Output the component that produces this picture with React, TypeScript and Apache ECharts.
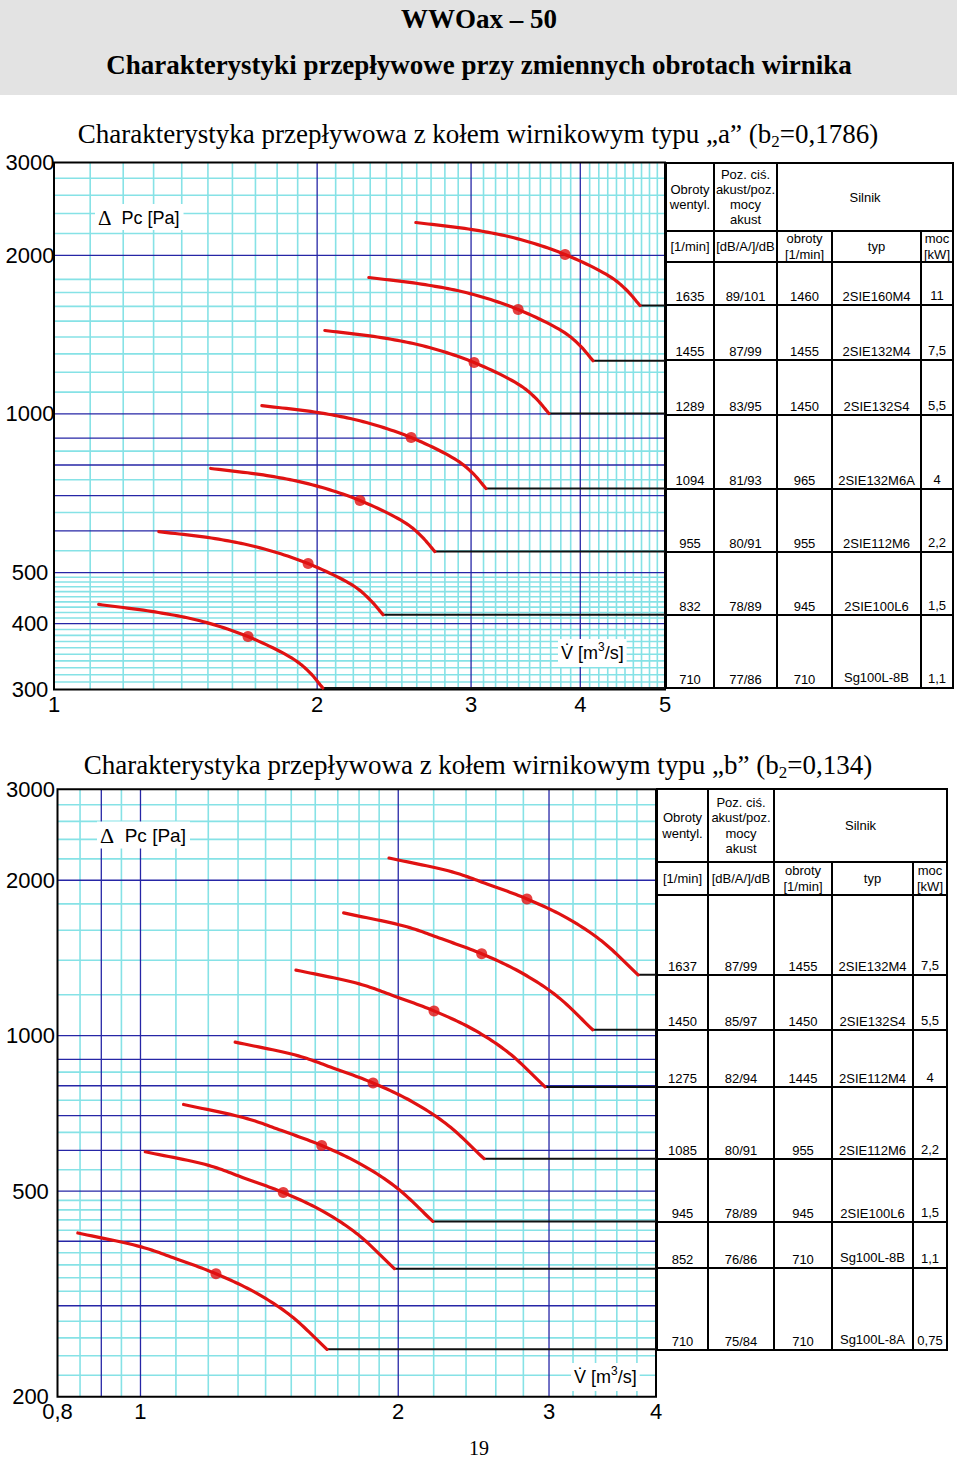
import React, { useEffect, useRef } from "react";
import * as echarts from "echarts";

const SERIF = "'Liberation Serif', 'Times New Roman', serif";
const SANS = "'Liberation Sans', Arial, sans-serif";
const RED = "#e01212";
const CYAN = "#86e2e6";
const BLUE = "#2626a6";

// ---------------- Chart A (wirnik typu "a") ----------------
const aXRange = [1, 5];
const aYRange = [300, 3000];
const aXTickValues = [1, 2, 3, 4, 5];
const aXTickLabels = ["1", "2", "3", "4", "5"];
const aYTickValues = [3000, 2000, 1000, 500, 400, 300];
const aYTickLabels = ["3000", "2000", "1000", "500", "400", "300"];
const aVMinor = [1.1, 1.2, 1.3, 1.4, 1.5, 1.6, 1.7, 1.8, 1.9, 2.1, 2.2, 2.3, 2.4, 2.5, 2.6, 2.7, 2.8, 2.9, 3.1, 3.2, 3.3, 3.4, 3.5, 3.6, 3.7, 3.8, 3.9, 4.1, 4.2, 4.3, 4.4, 4.5, 4.6, 4.7, 4.8, 4.9];
const aVMajor = [2, 3, 4];
const aHMinor = [2800, 2600, 2400, 2200, 1800, 1700, 1600, 1500, 1400, 1300, 1200, 1100, 850, 750, 650, 550, 490, 480, 470, 460, 450, 440, 430, 420, 410, 390, 380, 370, 360, 350, 340, 330, 320, 310];
const aHMajor = [2000, 1000, 900, 800, 700, 600, 500, 400];

const aCurve1635 = [[2.594, 2308], [3.009, 2238], [3.386, 2151], [3.843, 2007], [4.339, 1816], [4.523, 1715], [4.681, 1606]];
const aCurve1455 = [[2.292, 1815], [2.659, 1759], [2.992, 1692], [3.396, 1578], [3.834, 1428], [3.997, 1348], [4.136, 1262]];
const aCurve1289 = [[2.041, 1440], [2.368, 1396], [2.664, 1342], [3.024, 1252], [3.414, 1133], [3.559, 1070], [3.683, 1002]];
const aCurve1094 = [[1.729, 1037], [2.006, 1006], [2.257, 967], [2.562, 902], [2.892, 816], [3.015, 771], [3.12, 722]];
const aCurve955 = [[1.511, 788], [1.753, 764], [1.973, 734], [2.239, 685], [2.528, 620], [2.635, 585], [2.727, 548]];
const aCurve832 = [[1.318, 598], [1.529, 580], [1.721, 557], [1.953, 520], [2.205, 471], [2.299, 444], [2.379, 416]];
const aCurve710 = [[1.125, 435], [1.305, 421], [1.469, 405], [1.667, 378], [1.882, 342], [1.962, 323], [2.03, 302]];
const aDots = [[3.843, 2007], [3.396, 1578], [3.024, 1252], [2.562, 902], [2.239, 685], [1.953, 520], [1.667, 378]];

const aFanRpm = ["1635", "1455", "1289", "1094", "955", "832", "710"];
const aNoise = ["89/101", "87/99", "83/95", "81/93", "80/91", "78/89", "77/86"];
const aMotorRpm = ["1460", "1455", "1450", "965", "955", "945", "710"];
const aMotorType = ["2SIE160M4", "2SIE132M4", "2SIE132S4", "2SIE132M6A", "2SIE112M6", "2SIE100L6", "Sg100L-8B"];
const aPower = ["11", "7,5", "5,5", "4", "2,2", "1,5", "1,1"];

// ---------------- Chart B (wirnik typu "b") ----------------
const bXRange = [0.8, 4];
const bYRange = [200, 3000];
const bXTickValues = [0.8, 1, 2, 3, 4];
const bXTickLabels = ["0,8", "1", "2", "3", "4"];
const bYTickValues = [3000, 2000, 1000, 500, 200];
const bYTickLabels = ["3000", "2000", "1000", "500", "200"];
const bVMinor = [0.85, 0.95, 1.1, 1.2, 1.3, 1.4, 1.5, 1.6, 1.7, 1.8, 1.9, 2.2, 2.4, 2.6, 2.8, 3.2, 3.4, 3.6, 3.8];
const bVMajor = [0.9, 1, 2, 3];
const bHMinor = [2800, 2600, 2400, 2200, 1800, 1600, 1400, 1200, 850, 750, 650, 550, 480, 460, 440, 420, 380, 360, 340, 320, 280, 260, 240, 220];
const bHMajor = [2000, 1000, 900, 800, 700, 600, 500, 400, 300];

const bCurve1637 = [[1.951, 2208], [2.312, 2076], [2.539, 1967], [2.827, 1840], [3.146, 1691], [3.457, 1525], [3.811, 1312]];
const bCurve1450 = [[1.727, 1729], [2.047, 1625], [2.248, 1540], [2.503, 1441], [2.786, 1324], [3.061, 1195], [3.374, 1027]];
const bCurve1275 = [[1.519, 1340], [1.801, 1260], [1.977, 1194], [2.202, 1117], [2.451, 1027], [2.693, 926], [2.968, 796]];
const bCurve1085 = [[1.29, 972], [1.529, 914], [1.678, 866], [1.869, 810], [2.08, 744], [2.286, 671], [2.519, 578]];
const bCurve945 = [[1.123, 736], [1.332, 691], [1.462, 655], [1.628, 613], [1.812, 563], [1.991, 508], [2.195, 437]];
const bCurve852 = [[1.013, 596], [1.201, 561], [1.318, 531], [1.468, 497], [1.634, 457], [1.795, 412], [1.979, 354]];
const bCurve710 = [[0.845, 415], [1.002, 390], [1.1, 370], [1.225, 346], [1.363, 318], [1.498, 287], [1.651, 247]];
const bDots = [[2.827, 1840], [2.503, 1441], [2.202, 1117], [1.869, 810], [1.628, 613], [1.468, 497], [1.225, 346]];

const bFanRpm = ["1637", "1450", "1275", "1085", "945", "852", "710"];
const bNoise = ["87/99", "85/97", "82/94", "80/91", "78/89", "76/86", "75/84"];
const bMotorRpm = ["1455", "1450", "1445", "955", "945", "710", "710"];
const bMotorType = ["2SIE132M4", "2SIE132S4", "2SIE112M4", "2SIE112M6", "2SIE100L6", "Sg100L-8B", "Sg100L-8A"];
const bPower = ["7,5", "5,5", "4", "2,2", "1,5", "1,1", "0,75"];

const headerTop = ["Obroty\nwentyl.", "Poz. ciś.\nakust/poz.\nmocy\nakust", "Silnik"];
const headerBottom = ["[1/min]", "[dB/A/]/dB", "obroty\n[1/min]", "typ", "moc\n[kW]"];

// ---------------- helpers ----------------
// centripetal Catmull-Rom through pixel points (rendering only)
function catmull(pts: number[][], seg = 14): number[][] {
  const n = pts.length;
  if (n < 3) return pts;
  const P = (i: number) => {
    if (i < 0) return [2 * pts[0][0] - pts[1][0], 2 * pts[0][1] - pts[1][1]];
    if (i >= n) return [2 * pts[n - 1][0] - pts[n - 2][0], 2 * pts[n - 1][1] - pts[n - 2][1]];
    return pts[i];
  };
  const out: number[][] = [pts[0]];
  const d = (a: number[], b: number[]) => Math.max(1e-4, Math.pow(Math.hypot(b[0] - a[0], b[1] - a[1]), 0.5));
  const lerp = (a: number[], b: number[], ta: number, tb: number, t: number) => {
    const u = (t - ta) / (tb - ta);
    return [a[0] + (b[0] - a[0]) * u, a[1] + (b[1] - a[1]) * u];
  };
  for (let i = 0; i < n - 1; i++) {
    const p0 = P(i - 1), p1 = P(i), p2 = P(i + 1), p3 = P(i + 2);
    const t0 = 0;
    const t1 = t0 + d(p0, p1);
    const t2 = t1 + d(p1, p2);
    const t3 = t2 + d(p2, p3);
    for (let k = 1; k <= seg; k++) {
      const t = t1 + ((t2 - t1) * k) / seg;
      const A1 = lerp(p0, p1, t0, t1, t);
      const A2 = lerp(p1, p2, t1, t2, t);
      const A3 = lerp(p2, p3, t2, t3, t);
      const B1 = lerp(A1, A2, t0, t2, t);
      const B2 = lerp(A2, A3, t1, t3, t);
      out.push(lerp(B1, B2, t1, t2, t));
    }
  }
  return out;
}

function gridSeries(gi: number, xr: number[], yr: number[], vMinor: number[], vMajor: number[], hMinor: number[], hMajor: number[]) {
  const data: number[][] = [];
  vMinor.forEach((v) => data.push([v, yr[0], 0]));
  hMinor.forEach((v) => data.push([xr[0], v, 1]));
  hMajor.forEach((v) => data.push([xr[0], v, 2]));
  vMajor.forEach((v) => data.push([v, yr[0], 3]));
  data.push([xr[0], yr[0], 4]);
  return {
    type: "custom",
    xAxisIndex: gi,
    yAxisIndex: gi,
    z: 1,
    silent: true,
    data,
    renderItem: (params: any, api: any) => {
      const kind = api.value(2);
      const a = api.value(0);
      const b = api.value(1);
      if (kind === 0 || kind === 3) {
        const p1 = api.coord([a, yr[0]]);
        const p2 = api.coord([a, yr[1]]);
        return {
          type: "line",
          shape: { x1: p1[0], y1: p1[1], x2: p2[0], y2: p2[1] },
          style: { stroke: kind === 0 ? CYAN : BLUE, lineWidth: kind === 0 ? 1.6 : 1.3 },
        };
      }
      if (kind === 1 || kind === 2) {
        const p1 = api.coord([xr[0], b]);
        const p2 = api.coord([xr[1], b]);
        return {
          type: "line",
          shape: { x1: p1[0], y1: p1[1], x2: p2[0], y2: p2[1] },
          style: { stroke: kind === 1 ? CYAN : BLUE, lineWidth: kind === 1 ? 1.6 : 1.3 },
        };
      }
      const p1 = api.coord([xr[0], yr[1]]);
      const p2 = api.coord([xr[1], yr[0]]);
      return {
        type: "rect",
        shape: { x: p1[0], y: p1[1], width: p2[0] - p1[0], height: p2[1] - p1[1] },
        style: { fill: "none", stroke: "#000", lineWidth: 2 },
      };
    },
  };
}

function labelSeries(gi: number, points: number[][], labels: string[], dx: number, dy: number) {
  return {
    type: "custom",
    xAxisIndex: gi,
    yAxisIndex: gi,
    z: 6,
    silent: true,
    data: points,
    renderItem: (params: any, api: any) => {
      const p = api.coord([api.value(0), api.value(1)]);
      return {
        type: "text",
        x: p[0] + dx,
        y: p[1] + dy,
        style: {
          text: labels[params.dataIndex],
          font: `22px ${SANS}`,
          fill: "#000",
          align: "center",
          verticalAlign: "middle",
          textAlign: "center",
          textVerticalAlign: "middle",
        },
      };
    },
  };
}

function curveSeries(gi: number, curves: number[][][], dots: number[][], xMax: number) {
  const out: any[] = [];
  curves.forEach((c) => {
    const end = c[c.length - 1];
    out.push({
      type: "line",
      xAxisIndex: gi,
      yAxisIndex: gi,
      data: [end, [xMax, end[1]]],
      showSymbol: false,
      silent: true,
      z: 2,
      lineStyle: { color: "#111", width: 2 },
    });
    out.push({
      type: "custom",
      xAxisIndex: gi,
      yAxisIndex: gi,
      data: c,
      silent: true,
      z: 3,
      renderItem: (params: any, api: any) => {
        if (params.dataIndex !== 0) return null;
        const px = c.map((p) => api.coord(p));
        return {
          type: "polyline",
          shape: { points: catmull(px) },
          style: { stroke: RED, lineWidth: 3.2, fill: "none", lineCap: "round", lineJoin: "round" },
        };
      },
    });
  });
  out.push({
    type: "scatter",
    xAxisIndex: gi,
    yAxisIndex: gi,
    data: dots,
    symbolSize: 11,
    silent: true,
    z: 4,
    itemStyle: { color: RED },
  });
  return out;
}

function txt(x: number, y: number, text: string, font: string, extra: any = {}) {
  return {
    type: "text",
    x,
    y,
    z: 100,
    silent: true,
    style: {
      text,
      font,
      fill: "#000",
      align: "center",
      verticalAlign: "middle",
      textAlign: "center",
      textVerticalAlign: "middle",
      ...extra,
    },
  };
}

function ln(x1: number, y1: number, x2: number, y2: number, w = 2) {
  return { type: "line", z: 100, silent: true, shape: { x1, y1, x2, y2 }, style: { stroke: "#000", lineWidth: w } };
}

function tableGraphics(
  cols: number[],
  top: number,
  mid: number,
  headBottom: number,
  rowBottoms: number[],
  columns: string[][],
  headLH: number
) {
  const els: any[] = [];
  const bottom = rowBottoms[rowBottoms.length - 1];
  els.push({
    type: "rect",
    z: 99,
    silent: true,
    shape: { x: cols[0], y: top, width: cols[5] - cols[0], height: bottom - top },
    style: { fill: "#fff", stroke: "#000", lineWidth: 2 },
  });
  els.push(ln(cols[1], top, cols[1], bottom));
  els.push(ln(cols[2], top, cols[2], bottom));
  els.push(ln(cols[3], mid, cols[3], bottom));
  els.push(ln(cols[4], mid, cols[4], bottom));
  els.push(ln(cols[0], mid, cols[5], mid));
  els.push(ln(cols[0], headBottom, cols[5], headBottom));
  rowBottoms.slice(0, -1).forEach((y) => els.push(ln(cols[0], y, cols[5], y)));
  const cx = [0, 1, 2, 3, 4].map((i) => (cols[i] + cols[i + 1]) / 2);
  const f = `13px ${SANS}`;
  const hm = (top + mid) / 2;
  els.push(txt(cx[0], hm, headerTop[0], f, { lineHeight: headLH }));
  els.push(txt(cx[1], hm, headerTop[1], f, { lineHeight: headLH }));
  els.push(txt((cols[2] + cols[5]) / 2, hm, headerTop[2], f));
  const hb = (mid + headBottom) / 2;
  headerBottom.forEach((h, i) => els.push(txt(cx[i], hb, h, f, { lineHeight: 16 })));
  rowBottoms.forEach((yb, r) => {
    columns.forEach((col, c) => {
      const isSg = col[r].startsWith("Sg");
      const dy = c === 4 ? 9.5 : isSg ? 10.5 : 8.5;
      els.push(txt(cx[c], yb - dy, col[r], f));
    });
  });
  return els;
}

function axisNameGraphics(px: number, py: number, vx: number, vy: number, fs: number) {
  return [
    {
      type: "text",
      x: px,
      y: py,
      z: 100,
      silent: true,
      style: {
        text: "{d|Δ}{n|  Pc [Pa]}",
        rich: {
          d: { fontFamily: SERIF, fontSize: fs + 3, fill: "#000" },
          n: { fontFamily: SANS, fontSize: fs, fill: "#000" },
        },
        backgroundColor: "#fff",
        padding: [3, 4, 2, 3],
        fill: "#000",
        align: "left",
        verticalAlign: "middle",
        textAlign: "left",
        textVerticalAlign: "middle",
      },
    },
    {
      type: "text",
      x: vx,
      y: vy,
      z: 100,
      silent: true,
      style: {
        text: "{n|V̇ [m}{s|3}{n|/s]}",
        rich: {
          n: { fontFamily: SANS, fontSize: 18, lineHeight: 24, fill: "#000" },
          s: { fontFamily: SANS, fontSize: 12, lineHeight: 12, verticalAlign: "top", fill: "#000" },
        },
        backgroundColor: "#fff",
        padding: [2, 3, 2, 3],
        fill: "#000",
        align: "left",
        verticalAlign: "middle",
        textAlign: "left",
        textVerticalAlign: "middle",
      },
    },
  ];
}

function subtitle(x: number, y: number, main: string, tail: string) {
  return {
    type: "text",
    x,
    y,
    z: 100,
    silent: true,
    style: {
      text: `{m|${main}}{s|2}{m|${tail}}`,
      rich: {
        m: { fontFamily: SERIF, fontSize: 27, lineHeight: 32, fill: "#000" },
        s: { fontFamily: SERIF, fontSize: 17, lineHeight: 20, verticalAlign: "bottom", fill: "#000" },
      },
      fill: "#000",
      align: "center",
      verticalAlign: "middle",
      textAlign: "center",
      textVerticalAlign: "middle",
    },
  };
}

function buildOption() {
  const hiddenAxis = {
    type: "log",
    axisLine: { show: false },
    axisTick: { show: false },
    axisLabel: { show: false },
    splitLine: { show: false },
  };
  const series: any[] = [
    gridSeries(0, aXRange, aYRange, aVMinor, aVMajor, aHMinor, aHMajor),
    gridSeries(1, bXRange, bYRange, bVMinor, bVMajor, bHMinor, bHMajor),
    ...curveSeries(0, [aCurve1635, aCurve1455, aCurve1289, aCurve1094, aCurve955, aCurve832, aCurve710], aDots, aXRange[1]),
    ...curveSeries(1, [bCurve1637, bCurve1450, bCurve1275, bCurve1085, bCurve945, bCurve852, bCurve710], bDots, bXRange[1]),
    labelSeries(0, aXTickValues.map((v) => [v, aYRange[0]]), aXTickLabels, 0, 15),
    labelSeries(0, aYTickValues.map((v) => [aXRange[0], v]), aYTickLabels, -24, 0),
    labelSeries(1, bXTickValues.map((v) => [v, bYRange[0]]), bXTickLabels, 0, 15),
    labelSeries(1, bYTickValues.map((v) => [bXRange[0], v]), bYTickLabels, -27, 0),
  ];

  const graphic: any[] = [
    { type: "rect", z: 90, silent: true, shape: { x: 0, y: 0, width: 957, height: 95 }, style: { fill: "#e3e3e3" } },
    txt(479, 19, "WWOax – 50", `bold 27px ${SERIF}`),
    txt(479, 65, "Charakterystyki przepływowe przy zmiennych obrotach wirnika", `bold 27px ${SERIF}`),
    subtitle(478, 134, "Charakterystyka przepływowa z kołem wirnikowym typu „a” (b", "=0,1786)"),
    subtitle(478, 765, "Charakterystyka przepływowa z kołem wirnikowym typu „b” (b", "=0,134)"),
    txt(479, 1448, "19", `20px ${SERIF}`),
    ...axisNameGraphics(95, 217, 558, 653, 18),
    ...axisNameGraphics(97, 835, 571, 1377, 19),
    ...tableGraphics([666, 714, 777, 832, 921, 953], 163, 231, 262, [305, 360, 415, 489, 552, 615, 688], [aFanRpm, aNoise, aMotorRpm, aMotorType, aPower], 15),
    ...tableGraphics([657, 708, 774, 832, 913, 947], 789, 862, 895, [975, 1030, 1087, 1159, 1222, 1268, 1350], [bFanRpm, bNoise, bMotorRpm, bMotorType, bPower], 15.6),
  ];

  return {
    animation: false,
    backgroundColor: "#fff",
    grid: [
      { left: 54, top: 162.5, width: 611, height: 527, show: false },
      { left: 57.5, top: 789.3, width: 598.5, height: 607.4, show: false },
    ],
    xAxis: [
      { ...hiddenAxis, gridIndex: 0, min: aXRange[0], max: aXRange[1] },
      { ...hiddenAxis, gridIndex: 1, min: bXRange[0], max: bXRange[1] },
    ],
    yAxis: [
      { ...hiddenAxis, gridIndex: 0, min: aYRange[0], max: aYRange[1] },
      { ...hiddenAxis, gridIndex: 1, min: bYRange[0], max: bYRange[1] },
    ],
    series,
    graphic,
  };
}

export default function App() {
  const ref = useRef<HTMLDivElement>(null);
  useEffect(() => {
    if (!ref.current) return;
    const chart = echarts.init(ref.current, null, { renderer: "svg" });
    chart.setOption(buildOption() as any);
    return () => chart.dispose();
  }, []);
  return (
    <div
      ref={ref}
      style={{ position: "absolute", left: 0, top: 0, width: 960, height: 1460, background: "#fff" }}
    />
  );
}
